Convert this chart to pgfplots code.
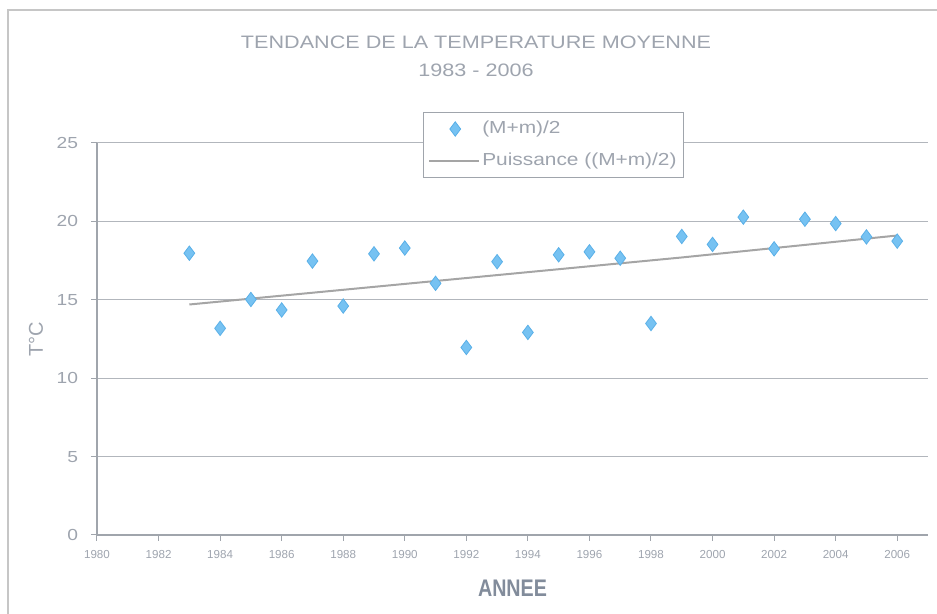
\documentclass[border=0pt]{standalone}
\usepackage{fontspec}
\setmainfont{Liberation Sans}
\newfontfamily\wide{Liberation Sans}[FakeStretch=1.2]
\newfontfamily\narrow{Liberation Sans}[FakeStretch=0.82]
\usepackage{pgfplots}
\usepackage{pgfplotstable}
\pgfplotsset{compat=1.18}
\definecolor{txtgray}{RGB}{158,164,174}
\definecolor{labgray}{RGB}{130,140,155}
\definecolor{axisgray}{RGB}{160,165,172}
\definecolor{gridgray}{RGB}{178,182,188}
\definecolor{ptfill}{RGB}{118,194,242}
\definecolor{ptdraw}{RGB}{90,176,232}
\definecolor{trendgray}{RGB}{165,165,165}

\pgfplotsset{
  diamleg/.style={legend image code/.code={\path[draw=none,fill=none] (0pt,-1pt) rectangle (25pt,1pt); \draw[##1] plot coordinates {(13pt,0pt)};}},
  lineleg/.style={legend image code/.code={\draw[##1] (0pt,0pt) -- (25pt,0pt);}},
}

\pgfplotstableread{
year temp
1983 17.97
1984 13.18
1985 15.02
1986 14.35
1987 17.47
1988 14.60
1989 17.93
1990 18.30
1991 16.05
1992 11.96
1993 17.43
1994 12.92
1995 17.87
1996 18.06
1997 17.65
1998 13.49
1999 19.04
2000 18.53
2001 20.27
2002 18.25
2003 20.14
2004 19.86
2005 19.01
2006 18.74
}\meantemp

\pgfplotstableread{
year trend
1983 14.70
1987 15.45
1991 16.20
1995 16.95
1999 17.70
2003 18.50
2006 19.10
}\trendtab

\begin{document}
\begin{tikzpicture}
\useasboundingbox (-48.5pt,-39.5pt) rectangle (420pt,267.5pt);
\draw[gray!45, line width=0.6pt] (-44.5pt,-39.5pt) -- (-44.5pt,262.5pt) -- (420pt,262.5pt);
\node[font=\wide\fontsize{9}{10}\selectfont, text=txtgray] at (189.5pt,246.5pt) {TENDANCE DE LA TEMPERATURE MOYENNE};
\node[font=\wide\fontsize{9}{10}\selectfont, text=txtgray] at (189.5pt,232.5pt) {1983 - 2006};
\begin{axis}[
  scale only axis, width=415.5pt, height=196pt,
  xmin=1980, xmax=2007, ymin=0, ymax=25,
  xtick={1980,1982,...,2006}, ytick={0,5,...,25},
  axis x line*=bottom, axis y line*=left,
  axis line style={draw=axisgray, line width=0.6pt},
  ymajorgrids, grid style={draw=gridgray, line width=0.5pt},
  tick align=outside, major tick length=3pt,
  tick style={draw=axisgray, line width=0.5pt},
  /pgf/number format/assume math mode=true,
  /pgf/number format/1000 sep={},
  x tick label style={font=\fontsize{5.8}{6}\selectfont, text=txtgray, yshift=-1pt},
  y tick label style={font=\wide\fontsize{8}{9}\selectfont, text=txtgray, xshift=-3pt},
  xlabel={ANNEE},
  xlabel style={at={(axis description cs:0.5,0)}, anchor=center, yshift=-26.5pt, font=\narrow\bfseries\fontsize{12}{13}\selectfont, text=labgray},
  ylabel={T°C},
  ylabel style={at={(axis description cs:0,0.5)}, anchor=center, yshift=30.5pt, font=\fontsize{10}{11}\selectfont, text=txtgray},
  legend cell align=left,
  legend style={at={(0.392,1.079)}, anchor=north west, draw=axisgray, fill=white, line width=0.5pt,
    font=\wide\fontsize{8.7}{10}\selectfont, text=txtgray,
    inner xsep=2.5pt, inner ysep=2.5pt, row sep=4.5pt,
    nodes={inner sep=1pt, text height=7pt, text depth=2.5pt}},
]
\addplot[only marks, mark=diamond*, mark size=3.6pt, mark options={fill=ptfill, draw=ptdraw, line width=0.4pt}, diamleg]
  table[x=year, y=temp] {\meantemp};
\addlegendentry{(M+m)/2}
\addplot[draw=trendgray, line width=1pt, no marks, lineleg]
  table[x=year, y=trend] {\trendtab};
\addlegendentry{Puissance ((M+m)/2)}
\end{axis}
\end{tikzpicture}
\end{document}
